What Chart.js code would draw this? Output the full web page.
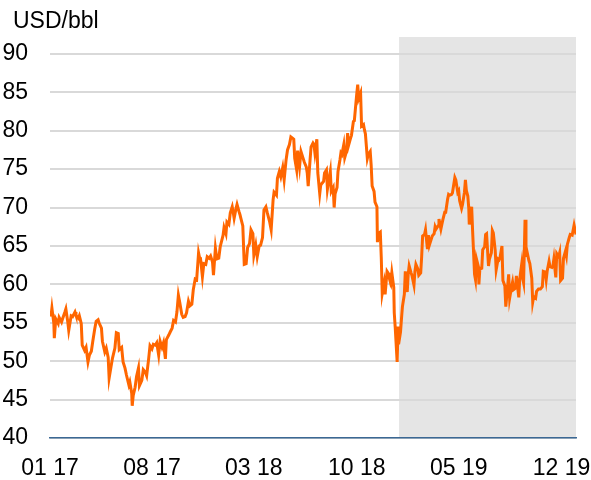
<!DOCTYPE html>
<html>
<head>
<meta charset="utf-8">
<script src="https://cdn.jsdelivr.net/npm/chart.js@4/dist/chart.umd.min.js"></script>
<style>
html,body{margin:0;padding:0;background:#fff;}
#wrap{width:591px;height:480px;position:relative;}
</style>
</head>
<body>
<div id="wrap"><canvas id="c"></canvas></div>
<script>
const unitLabel = 'USD/bbl';
const originDate = '2017-01-01';
const endDate = '2019-12-31';
const shadeStart = '2018-12-28';
const tickDates = ['2017-01-01','2017-08-01','2018-03-01','2018-10-01','2019-05-01','2019-12-01'];
const tickLabels = ['01 17','08 17','03 18','10 18','05 19','12 19'];
const yTicks = [40,45,50,55,60,65,70,75,80,85,90];

const dates2017 = ['2017-01-03','2017-01-05','2017-01-09','2017-01-10','2017-01-13','2017-01-18','2017-01-20','2017-01-25','2017-01-27','2017-02-01','2017-02-03','2017-02-07','2017-02-09','2017-02-14','2017-02-17','2017-02-22','2017-02-24','2017-03-01','2017-03-03','2017-03-07','2017-03-09','2017-03-14','2017-03-17','2017-03-21','2017-03-24','2017-03-28','2017-03-31','2017-04-04','2017-04-07','2017-04-11','2017-04-13','2017-04-18','2017-04-20','2017-04-25','2017-04-28','2017-05-02','2017-05-04','2017-05-08','2017-05-11','2017-05-16','2017-05-19','2017-05-23','2017-05-25','2017-05-30','2017-06-02','2017-06-06','2017-06-09','2017-06-14','2017-06-16','2017-06-20','2017-06-21','2017-06-23','2017-06-27','2017-06-30','2017-07-04','2017-07-06','2017-07-11','2017-07-14','2017-07-18','2017-07-21','2017-07-25','2017-07-28','2017-08-01','2017-08-04','2017-08-08','2017-08-11','2017-08-15','2017-08-18','2017-08-22','2017-08-25','2017-08-29','2017-08-31','2017-09-05','2017-09-08','2017-09-12','2017-09-15','2017-09-19','2017-09-22','2017-09-25','2017-09-28','2017-10-02','2017-10-05','2017-10-09','2017-10-12','2017-10-16','2017-10-19','2017-10-23','2017-10-26','2017-10-30','2017-11-02','2017-11-06','2017-11-08','2017-11-10','2017-11-14','2017-11-17','2017-11-21','2017-11-24','2017-11-28','2017-12-01','2017-12-05','2017-12-07','2017-12-11','2017-12-14','2017-12-18','2017-12-21','2017-12-27','2017-12-29'];
const prices2017 = [55.8,56.9,54.9,53.0,55.5,54.9,55.7,55.1,55.5,56.4,56.8,55.1,54.0,55.9,55.8,56.4,56.0,55.6,55.9,54.9,52.1,51.4,51.8,49.9,50.8,51.3,52.6,54.2,55.2,55.4,55.0,54.3,52.6,51.2,51.7,50.5,47.8,49.3,50.4,51.7,53.7,53.6,51.5,51.8,49.9,49.1,48.2,46.9,47.3,45.8,44.2,45.5,46.6,48.0,49.1,46.8,47.5,48.9,48.6,48.1,50.2,52.0,51.6,52.2,52.1,52.4,50.8,52.6,51.8,52.4,50.3,52.8,53.4,53.8,54.3,55.3,55.1,56.4,58.6,57.6,56.1,55.7,55.8,56.3,57.8,57.2,57.4,59.3,60.7,60.6,64.1,63.5,63.4,61.0,62.7,62.6,63.6,63.4,63.7,62.9,61.2,64.7,63.3,63.4,64.9,66.4,67.4];

const dates2018 = ['2018-01-02','2018-01-04','2018-01-08','2018-01-11','2018-01-15','2018-01-17','2018-01-19','2018-01-23','2018-01-25','2018-01-29','2018-01-31','2018-02-02','2018-02-06','2018-02-09','2018-02-13','2018-02-16','2018-02-20','2018-02-23','2018-02-27','2018-03-01','2018-03-05','2018-03-08','2018-03-12','2018-03-15','2018-03-19','2018-03-22','2018-03-26','2018-03-29','2018-04-03','2018-04-06','2018-04-10','2018-04-12','2018-04-17','2018-04-19','2018-04-23','2018-04-26','2018-04-30','2018-05-03','2018-05-07','2018-05-10','2018-05-14','2018-05-17','2018-05-21','2018-05-23','2018-05-25','2018-05-29','2018-05-31','2018-06-04','2018-06-07','2018-06-11','2018-06-14','2018-06-18','2018-06-20','2018-06-22','2018-06-26','2018-06-28','2018-07-02','2018-07-04','2018-07-06','2018-07-10','2018-07-12','2018-07-16','2018-07-18','2018-07-20','2018-07-24','2018-07-26','2018-07-30','2018-08-01','2018-08-03','2018-08-07','2018-08-09','2018-08-13','2018-08-15','2018-08-17','2018-08-21','2018-08-23','2018-08-27','2018-08-29','2018-08-31','2018-09-04','2018-09-06','2018-09-10','2018-09-12','2018-09-14','2018-09-18','2018-09-20','2018-09-24','2018-09-26','2018-09-28','2018-10-01','2018-10-03','2018-10-05','2018-10-09','2018-10-11','2018-10-15','2018-10-17','2018-10-19','2018-10-23','2018-10-25','2018-10-29','2018-10-31','2018-11-02','2018-11-06','2018-11-08','2018-11-12','2018-11-13','2018-11-15','2018-11-19','2018-11-21','2018-11-23','2018-11-27','2018-11-29','2018-12-03','2018-12-05','2018-12-07','2018-12-11','2018-12-13','2018-12-17','2018-12-18','2018-12-20','2018-12-24','2018-12-26','2018-12-27','2018-12-31'];
const prices2018 = [66.6,68.1,67.8,69.3,70.1,69.4,68.6,69.9,70.4,69.5,69.1,68.6,67.6,62.6,62.7,64.8,65.3,67.1,66.6,63.8,65.1,63.6,65.0,65.1,66.1,69.7,70.1,69.3,68.1,67.1,71.0,72.0,71.6,73.8,74.7,74.0,75.2,73.6,76.2,77.5,78.2,79.2,79.0,78.9,76.4,74.9,77.4,75.3,77.3,76.5,75.9,75.3,74.5,72.8,76.3,77.9,78.4,78.2,77.1,78.9,74.5,71.8,72.9,73.1,73.4,74.5,74.9,72.4,73.2,74.7,72.1,72.6,70.0,71.8,72.6,74.7,76.2,77.1,76.9,78.2,76.5,77.4,79.7,78.1,79.0,79.4,81.2,81.3,82.7,84.8,86.0,84.2,84.9,80.6,80.8,80.1,79.6,76.4,76.9,77.3,75.5,72.8,72.1,70.7,70.1,65.5,66.6,66.8,63.5,58.8,60.2,58.7,61.7,61.5,61.0,60.2,61.5,59.6,56.3,54.4,49.9,54.5,52.2,53.8];

const dates2019 = ['2019-01-02','2019-01-04','2019-01-08','2019-01-10','2019-01-14','2019-01-16','2019-01-18','2019-01-22','2019-01-24','2019-01-28','2019-01-30','2019-02-01','2019-02-05','2019-02-07','2019-02-11','2019-02-13','2019-02-15','2019-02-19','2019-02-21','2019-02-25','2019-02-27','2019-03-01','2019-03-05','2019-03-07','2019-03-11','2019-03-13','2019-03-15','2019-03-19','2019-03-21','2019-03-25','2019-03-27','2019-03-29','2019-04-02','2019-04-04','2019-04-08','2019-04-10','2019-04-12','2019-04-16','2019-04-18','2019-04-23','2019-04-25','2019-04-29','2019-05-01','2019-05-03','2019-05-07','2019-05-09','2019-05-13','2019-05-15','2019-05-17','2019-05-20','2019-05-22','2019-05-23','2019-05-28','2019-05-30','2019-06-03','2019-06-05','2019-06-07','2019-06-11','2019-06-12','2019-06-14','2019-06-18','2019-06-20','2019-06-24','2019-06-26','2019-06-28','2019-07-02','2019-07-04','2019-07-08','2019-07-10','2019-07-12','2019-07-16','2019-07-18','2019-07-22','2019-07-24','2019-07-26','2019-07-30','2019-08-01','2019-08-05','2019-08-07','2019-08-09','2019-08-13','2019-08-15','2019-08-19','2019-08-21','2019-08-23','2019-08-27','2019-08-29','2019-09-03','2019-09-05','2019-09-09','2019-09-11','2019-09-13','2019-09-16','2019-09-18','2019-09-20','2019-09-24','2019-09-26','2019-09-30','2019-10-02','2019-10-04','2019-10-08','2019-10-10','2019-10-14','2019-10-16','2019-10-18','2019-10-22','2019-10-24','2019-10-28','2019-10-30','2019-11-01','2019-11-05','2019-11-07','2019-11-11','2019-11-13','2019-11-15','2019-11-19','2019-11-21','2019-11-25','2019-11-27','2019-11-29','2019-12-03','2019-12-05','2019-12-09','2019-12-11','2019-12-13','2019-12-17','2019-12-19','2019-12-23','2019-12-27','2019-12-31'];
const prices2019 = [55.5,57.1,58.7,61.7,59.0,61.3,62.4,61.5,61.1,59.9,61.7,62.6,62.0,61.2,61.5,63.6,66.3,66.5,67.1,64.6,66.4,65.1,65.9,66.3,66.6,67.5,67.2,67.6,68.5,67.2,67.8,68.4,69.4,69.4,71.1,71.7,71.6,71.7,71.9,73.9,73.6,72.0,72.2,70.9,69.9,70.4,72.0,73.6,72.2,71.5,69.9,67.8,70.1,66.9,61.3,60.6,63.3,62.3,60.0,62.0,62.1,64.5,64.9,66.5,66.6,62.4,63.3,64.1,67.0,66.7,64.4,61.9,63.3,63.2,63.5,65.0,60.5,59.8,57.1,58.5,61.3,58.2,59.7,60.3,59.3,59.5,61.1,58.3,60.7,62.6,60.8,60.2,68.4,63.6,64.3,63.1,62.7,60.8,57.7,58.4,58.2,59.1,59.4,59.4,59.4,59.7,61.7,61.6,60.6,61.7,63.0,62.3,62.2,62.4,63.3,60.9,64.0,63.6,64.1,60.5,60.8,63.4,64.3,63.7,65.2,66.1,66.5,66.4,67.7,66.5];

const DAY = 86400000;
const dayIndex = d => (Date.parse(d) - Date.parse(originDate)) / DAY;

const allDates = dates2017.concat(dates2018, dates2019);
const allPrices = prices2017.concat(prices2018, prices2019);
const points = allDates.map((d, i) => ({ x: dayIndex(d), y: allPrices[i] }));
const tickPos = tickDates.map(dayIndex);

const shadePlugin = {
  id: 'shade',
  beforeDraw(chart) {
    const { ctx, chartArea, scales } = chart;
    const x0 = scales.x.getPixelForValue(dayIndex(shadeStart));
    ctx.save();
    ctx.fillStyle = '#e5e5e5';
    ctx.fillRect(x0, chartArea.top, chartArea.right - x0, chartArea.bottom - chartArea.top);
    ctx.restore();
  }
};

const unitPlugin = {
  id: 'unitLabel',
  afterDraw(chart) {
    const { ctx } = chart;
    ctx.save();
    ctx.fillStyle = '#000';
    ctx.font = '23px "Liberation Sans", Arial, sans-serif';
    ctx.textAlign = 'left';
    ctx.textBaseline = 'alphabetic';
    ctx.fillText(unitLabel, 13, 28);
    ctx.restore();
  }
};

new Chart(document.getElementById('c'), {
  type: 'line',
  data: {
    datasets: [{
      data: points,
      borderColor: '#ff6600',
      borderWidth: 3,
      pointRadius: 0,
      tension: 0,
      fill: false
    }]
  },
  options: {
    responsive: true,
    maintainAspectRatio: false,
    animation: false,
    layout: { padding: { top: 37, right: 15, left: 0, bottom: 0 } },
    plugins: { legend: { display: false }, tooltip: { enabled: false } },
    scales: {
      x: {
        type: 'linear',
        min: 0,
        max: dayIndex(endDate),
        afterBuildTicks(scale) { scale.ticks = tickPos.map(v => ({ value: v })); },
        afterFit(scale) { scale.paddingLeft = 0; scale.paddingRight = 0; scale.height = 42; },
        ticks: {
          autoSkip: false,
          maxRotation: 0,
          padding: 17,
          color: '#000',
          font: { family: '"Liberation Sans", Arial, sans-serif', size: 23 },
          callback(value) {
            const i = tickPos.indexOf(value);
            return i >= 0 ? tickLabels[i] : '';
          }
        },
        grid: { display: false, drawTicks: false },
        border: { display: true, color: '#3b6894', width: 1.5 }
      },
      y: {
        min: 40,
        max: 92.2,
        afterBuildTicks(scale) { scale.ticks = yTicks.map(v => ({ value: v })); },
        afterFit(scale) { scale.width = 50; scale.paddingTop = 0; scale.paddingBottom = 0; },
        ticks: {
          padding: 22,
          color: '#000',
          font: { family: '"Liberation Sans", Arial, sans-serif', size: 23 }
        },
        grid: { color: '#d9d9d9', lineWidth: 2, drawTicks: false },
        border: { display: false }
      }
    }
  },
  plugins: [shadePlugin, unitPlugin]
});
</script>
</body>
</html>
